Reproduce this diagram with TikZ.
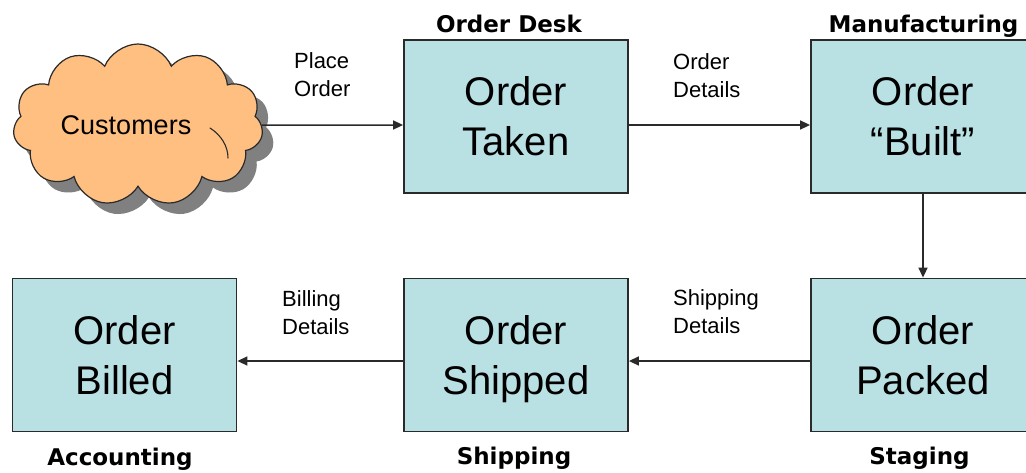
\documentclass[tikz,border=0pt]{standalone}
\usepackage{fontspec}
\setmainfont{Liberation Sans}
\newfontfamily\deptfont{DejaVu Sans}
\usetikzlibrary{shapes.symbols,shadows,arrows.meta}
\definecolor{boxfill}{HTML}{B9E0E3}
\definecolor{cloudfill}{HTML}{FFBF80}
\definecolor{edge}{HTML}{2A2A2A}
\begin{document}
\begin{tikzpicture}[x=1pt,y=-1pt,
  stage/.style={draw=edge, line width=1.8pt, fill=boxfill,
    minimum width=224pt, minimum height=153pt, inner sep=0pt,
    align=center, font=\fontsize{40}{50}\selectfont},
  dept/.style={anchor=base, inner sep=0pt,
    font=\deptfont\bfseries\fontsize{23}{28}\selectfont},
  flowlabel/.style={anchor=north west, align=left, inner sep=0pt,
    font=\fontsize{22}{28}\selectfont},
  flow/.style={draw=edge, line width=1.5pt,
    -{Triangle[length=10pt,width=9pt]}},
  seam/.style={draw=edge, line width=1.1pt, line cap=round},
]
\useasboundingbox (0,0) rectangle (1026,472);
\clip (0,0) rectangle (1026,472);

% the customers cloud with its drop shadow
\node[cloud, cloud puffs=11, cloud puff arc=135, cloud ignores aspect,
  minimum width=250pt, minimum height=162pt, inner sep=0pt,
  draw=edge, line width=1.2pt, fill=cloudfill,
  drop shadow={shadow xshift=11pt, shadow yshift=-11pt,
    fill=black!50, opacity=1}] (cust) at (138,125) {};
% inner puff seam
\draw[seam] (210,128) .. controls (221,135) and (228,146) .. (228,158);
\node[font=\fontsize{27}{32}\selectfont, inner sep=0pt] (custtext) at (126,125) {Customers};

% process stages
\node[stage] (taken)   at (516,116.5) {Order\\Taken};
\node[stage] (built)   at (923,116.5) {Order\\“Built”};
\node[stage] (packed)  at (923,355)   {Order\\Packed};
\node[stage] (shipped) at (516,355)   {Order\\\smash{Shipped}};
\node[stage] (billed)  at (124.5,355) {Order\\Billed};

% departments
\node[dept] (deskl)  at (509,32)    {Order Desk};
\node[dept] (mfgl)   at (923.5,32)  {Manufacturing};
\node[dept] (acctl)  at (120,465)   {Accounting};
\node[dept] (shipl)  at (514,464)   {Shipping};
\node[dept] (stagel) at (919.5,464) {Staging};

% flow between stages
\draw[flow] (cust.east) -- ([yshift=-8.5pt]taken.west);
\draw[flow] ([yshift=-8.5pt]taken.east) -- ([yshift=-8.5pt]built.west);
\draw[flow] (built.south) -- (packed.north);
\draw[flow] ([yshift=-6pt]packed.west) -- ([yshift=-6pt]shipped.east);
\draw[flow] ([yshift=-6pt]shipped.west) -- ([yshift=-6pt]billed.east);

% flow labels
\node[flowlabel] (placelbl) at (294,52)  {Place\\Order};
\node[flowlabel] (detlbl)   at (673,53)  {Order\\Details};
\node[flowlabel] (billlbl)  at (282,290) {Billing\\Details};
\node[flowlabel] (shiplbl)  at (673,289) {Shipping\\Details};
\end{tikzpicture}
\end{document}
